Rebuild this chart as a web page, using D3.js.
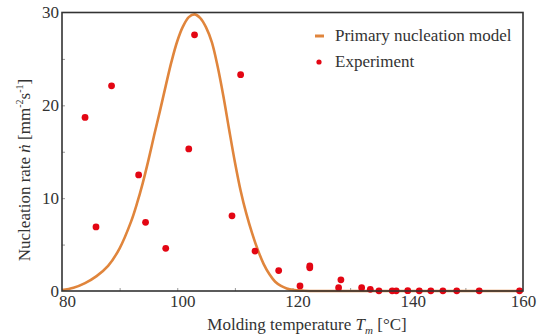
<!DOCTYPE html>
<html>
<head>
<meta charset="utf-8">
<script src="https://cdn.jsdelivr.net/npm/d3@7"></script>
<style>
  body { margin: 0; background: #fff; }
  svg { display: block; }
  svg text { font-family: "Liberation Serif", "Times New Roman", serif; }
</style>
</head>
<body>
<svg id="chart" width="537" height="335"></svg>
<script>
// model curve
const modelT = [80, 82, 84, 86, 88, 90, 92, 93, 94, 95, 96, 97, 98, 99, 100, 101, 102, 103, 104, 105, 106, 107, 108, 109, 110, 111, 112, 113, 114, 115, 116, 117, 118, 119, 120, 122, 125, 130, 140, 150, 160];
const modelRate = [0.1, 0.35, 0.85, 1.6, 2.7, 4.6, 7.5, 9.4, 11.6, 14.1, 16.8, 19.4, 22.1, 24.7, 26.9, 28.5, 29.5, 29.8, 29.4, 28.4, 26.8, 24.2, 21.0, 17.4, 13.9, 10.8, 8.3, 6.2, 4.4, 2.9, 1.8, 1.0, 0.55, 0.28, 0.12, 0.03, 0, 0, 0, 0, 0];

// experiment points
const expT = [84.0, 85.9, 88.6, 93.3, 94.5, 98.0, 102.0, 103.0, 109.5, 111.0, 113.5, 117.6, 121.3, 123.0, 123.0, 128.0, 128.4, 132.0, 133.5, 135.0, 137.3, 138.0, 140.0, 142.0, 144.0, 146.1, 148.5, 152.4, 159.4];
const expRate = [18.7, 6.9, 22.1, 12.5, 7.4, 4.6, 15.3, 27.6, 8.1, 23.3, 4.3, 2.2, 0.55, 2.5, 2.7, 0.36, 1.2, 0.36, 0.18, 0.02, 0.02, 0.02, 0.03, 0.02, 0.02, 0.02, 0.02, 0.02, 0.02];

const xTicks = [80, 100, 120, 140, 160];
const yTicks = [0, 10, 20, 30];

const width = 537, height = 335;
const margin = { top: 12.5, right: 14, bottom: 44, left: 62 };
const orange = '#e0853c';
const red = '#e30613';
const serif = '"Liberation Serif", "Times New Roman", serif';

const svg = d3.select('#chart');

const x = d3.scaleLinear().domain([80, 160]).range([margin.left, width - margin.right]);
const y = d3.scaleLinear().domain([0, 30]).range([height - margin.bottom, margin.top]);

// small inward ticks
svg.append('g')
    .attr('transform', `translate(0,${height - margin.bottom})`)
    .call(d3.axisBottom(x).tickValues(d3.range(90, 160, 10)).tickSize(-3).tickFormat(''))
    .call(g => g.select('.domain').remove())
    .call(g => g.selectAll('line').attr('stroke', '#999'));

svg.append('g')
    .attr('transform', `translate(${margin.left},0)`)
    .call(d3.axisLeft(y).tickValues(d3.range(5, 30, 5)).tickSize(-3).tickFormat(''))
    .call(g => g.select('.domain').remove())
    .call(g => g.selectAll('line').attr('stroke', '#999'));

// tick labels
svg.append('g')
    .attr('transform', `translate(0,${height - margin.bottom})`)
    .call(d3.axisBottom(x).tickValues(xTicks).tickSize(0).tickPadding(4))
    .call(g => g.select('.domain').remove())
    .call(g => g.selectAll('text')
        .style('font-family', serif)
        .style('font-size', '17px')
        .attr('fill', '#333')
        .attr('dx', d => d == 160 ? 0 : 5));

svg.append('g')
    .attr('transform', `translate(${margin.left},0)`)
    .call(d3.axisLeft(y).tickValues(yTicks).tickSize(0).tickPadding(3))
    .call(g => g.select('.domain').remove())
    .call(g => g.selectAll('text')
        .style('font-family', serif)
        .style('font-size', '17px')
        .attr('fill', '#333'));

// model line
const line = d3.line()
    .x((d, i) => x(modelT[i]))
    .y((d, i) => y(modelRate[i]))
    .curve(d3.curveCatmullRom);

svg.append('path')
    .datum(modelRate)
    .attr('d', line)
    .attr('fill', 'none')
    .attr('stroke', orange)
    .attr('stroke-width', 2.6);

// experiment dots
svg.append('g')
    .selectAll('circle')
    .data(expRate)
    .enter()
    .append('circle')
    .attr('cx', (d, i) => x(expT[i]))
    .attr('cy', d => y(d))
    .attr('r', 3.4)
    .attr('fill', red);

// frame
svg.append('rect')
    .attr('x', margin.left)
    .attr('y', margin.top)
    .attr('width', width - margin.left - margin.right)
    .attr('height', height - margin.top - margin.bottom)
    .attr('fill', 'none')
    .attr('stroke', '#333')
    .attr('stroke-width', 1.6);

// legend
const legend = svg.append('g').style('font-size', '17px').attr('fill', '#333');
legend.append('line')
    .attr('x1', 315).attr('x2', 324).attr('y1', 36).attr('y2', 36)
    .attr('stroke', orange).attr('stroke-width', 3);
legend.append('text').attr('x', 335).attr('y', 41).text('Primary nucleation model');
legend.append('circle').attr('cx', 319).attr('cy', 62).attr('r', 2.6).attr('fill', red);
legend.append('text').attr('x', 335).attr('y', 67).text('Experiment');

// axis titles
const xTitle = svg.append('text')
    .attr('x', 307).attr('y', 330)
    .attr('text-anchor', 'middle')
    .style('font-size', '17px')
    .attr('fill', '#333');
xTitle.append('tspan').text('Molding temperature ');
xTitle.append('tspan').attr('font-style', 'italic').text('T');
xTitle.append('tspan').attr('font-style', 'italic').style('font-size', '11px').attr('dy', 4).text('m');
xTitle.append('tspan').attr('dy', -4).text(' [°C]');

const yTitle = svg.append('text')
    .attr('transform', 'translate(30,170) rotate(-90)')
    .attr('text-anchor', 'middle')
    .style('font-size', '17px')
    .attr('fill', '#333');
yTitle.append('tspan').text('Nucleation rate ');
yTitle.append('tspan').attr('font-style', 'italic').text('ṅ');
yTitle.append('tspan').text('  [mm');
yTitle.append('tspan').style('font-size', '10px').attr('dy', -7).text('-2');
yTitle.append('tspan').attr('dy', 7).text('s');
yTitle.append('tspan').style('font-size', '10px').attr('dy', -7).text('-1');
yTitle.append('tspan').attr('dy', 7).text(']');
</script>
</body>
</html>
